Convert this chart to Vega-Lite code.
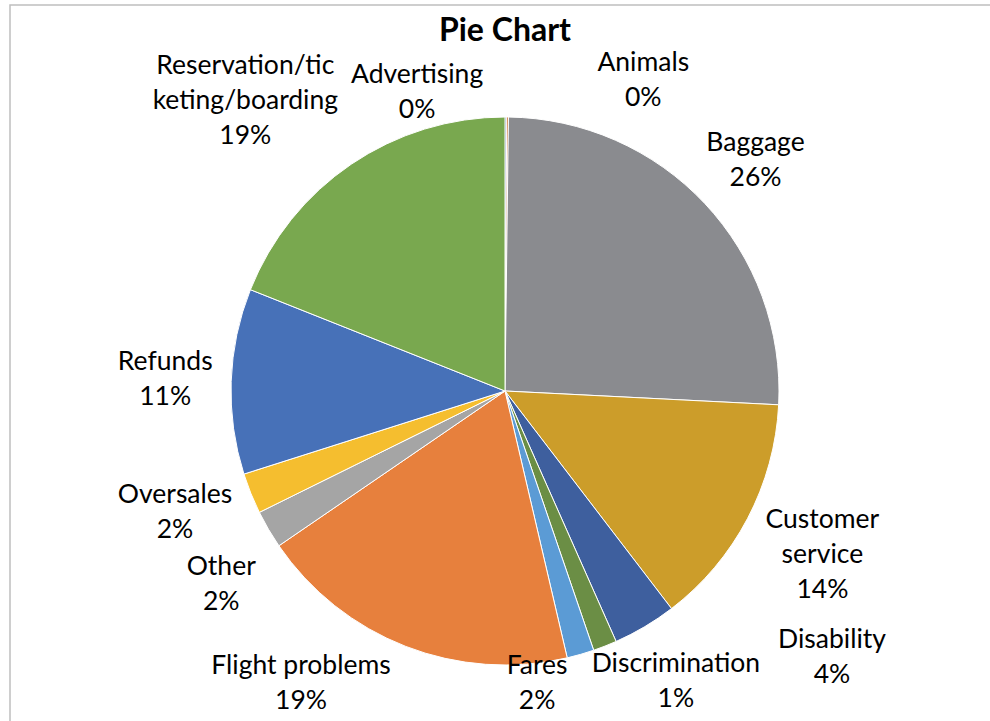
{
  "$schema": "https://vega.github.io/schema/vega-lite/v6.json",
  "width": 990,
  "height": 772,
  "autosize": "none",
  "padding": {"left": 10, "top": 5, "right": 0, "bottom": 0},
  "background": "white",
  "view": {"stroke": "#BFBFBF", "strokeWidth": 1.5},
  "config": {
    "view": {"stroke": "#BFBFBF", "strokeWidth": 1.5},
    "text": {"font": "Lato", "fontSize": 26.5, "lineHeight": 35, "fill": "#000000", "baseline": "middle", "align": "center"}
  },
  "title": {"text": "Pie Chart", "font": "Lato", "fontSize": 32, "fontWeight": "bold", "anchor": "middle", "baseline": "middle", "offset": 0, "dy": 58, "color": "#000000"},
  "data": {
    "values": [
      {"category": "Advertising", "label": "Advertising", "value": 0.001},
      {"category": "Animals", "label": "Animals", "value": 0.001},
      {"category": "Baggage", "label": "Baggage", "value": 0.256},
      {"category": "Customer service", "label": "Customer|service", "value": 0.138},
      {"category": "Disability", "label": "Disability", "value": 0.0375},
      {"category": "Discrimination", "label": "Discrimination", "value": 0.014},
      {"category": "Fares", "label": "Fares", "value": 0.016},
      {"category": "Flight problems", "label": "Flight problems", "value": 0.1909},
      {"category": "Other", "label": "Other", "value": 0.0225},
      {"category": "Oversales", "label": "Oversales", "value": 0.024},
      {"category": "Refunds", "label": "Refunds", "value": 0.1093},
      {"category": "Reservation/ticketing/boarding", "label": "Reservation/tic|keting/boarding", "value": 0.1897}
    ]
  },
  "transform": [
    {"stack": "value", "groupby": [], "sort": [{"field": "category", "order": "ascending"}], "as": ["v0", "v1"]},
    {"calculate": "(datum.v0 + datum.v1) / 2", "as": "mid"},
    {"calculate": "split(datum.label + '|' + format(datum.value, '.0%'), '|')", "as": "txt"}
  ],
  "layer": [
    {
      "mark": {"type": "arc", "outerRadius": 274, "stroke": "#FFFFFF", "strokeWidth": 1},
      "encoding": {
        "theta": {"field": "v0", "type": "quantitative", "scale": {"domain": [0, 0.9999]}},
        "theta2": {"field": "v1"},
        "color": {
          "field": "category", "type": "nominal", "legend": null,
          "scale": {
            "domain": ["Advertising", "Animals", "Baggage", "Customer service", "Disability", "Discrimination", "Fares", "Flight problems", "Other", "Oversales", "Refunds", "Reservation/ticketing/boarding"],
            "range": ["#2E5597", "#C55A11", "#8A8B8F", "#CC9D2A", "#3E5F9E", "#6B8E45", "#5B9BD5", "#E7803D", "#A5A5A5", "#F5BE2F", "#4771B8", "#79A84F"]
          }
        }
      }
    },
    {
      "transform": [{"filter": {"field": "category", "equal": "Baggage"}}],
      "mark": {"type": "text", "radius": 345, "dx": -1, "dy": -12},
      "encoding": {"theta": {"field": "mid", "type": "quantitative"}, "text": {"field": "txt"}}
    },
    {
      "transform": [{"filter": {"field": "category", "equal": "Customer service"}}],
      "mark": {"type": "text", "radius": 345, "dx": 12, "dy": -32},
      "encoding": {"theta": {"field": "mid", "type": "quantitative"}, "text": {"field": "txt"}}
    },
    {
      "transform": [{"filter": {"field": "category", "equal": "Refunds"}}],
      "mark": {"type": "text", "radius": 345, "dx": 5, "dy": -17},
      "encoding": {"theta": {"field": "mid", "type": "quantitative"}, "text": {"field": "txt"}}
    },
    {
      "transform": [{"filter": {"field": "category", "equal": "Oversales"}}],
      "mark": {"type": "text", "radius": 345, "dx": -10, "dy": -25},
      "encoding": {"theta": {"field": "mid", "type": "quantitative"}, "text": {"field": "txt"}}
    },
    {
      "transform": [{"filter": {"field": "category", "equal": "Other"}}],
      "mark": {"type": "text", "radius": 345, "dx": 14, "dy": 2},
      "encoding": {"theta": {"field": "mid", "type": "quantitative"}, "text": {"field": "txt"}}
    },
    {
      "transform": [{"filter": {"field": "category", "equal": "Reservation/ticketing/boarding"}}],
      "mark": {"type": "text", "radius": 345, "dx": -66, "dy": -39},
      "encoding": {"theta": {"field": "mid", "type": "quantitative"}, "text": {"field": "txt"}}
    },
    {
      "transform": [{"filter": {"field": "category", "equal": "Flight problems"}}],
      "mark": {"type": "text", "radius": 345, "dx": -79, "dy": -47},
      "encoding": {"theta": {"field": "mid", "type": "quantitative"}, "text": {"field": "txt"}}
    },
    {
      "transform": [{"filter": {"field": "category", "equal": "Fares"}}],
      "mark": {"type": "text", "radius": 345, "dx": -63, "dy": -57},
      "encoding": {"theta": {"field": "mid", "type": "quantitative"}, "text": {"field": "txt"}}
    },
    {
      "transform": [{"filter": {"field": "category", "equal": "Discrimination"}}],
      "mark": {"type": "text", "radius": 345, "dx": 45, "dy": -48},
      "encoding": {"theta": {"field": "mid", "type": "quantitative"}, "text": {"field": "txt"}}
    },
    {
      "transform": [{"filter": {"field": "category", "equal": "Disability"}}],
      "mark": {"type": "text", "radius": 345, "dx": 151, "dy": -48},
      "encoding": {"theta": {"field": "mid", "type": "quantitative"}, "text": {"field": "txt"}}
    },
    {
      "transform": [{"filter": {"field": "category", "equal": "Advertising"}}],
      "mark": {"type": "text", "radius": 345, "dx": -89, "dy": 29},
      "encoding": {"theta": {"field": "mid", "type": "quantitative"}, "text": {"field": "txt"}}
    },
    {
      "transform": [{"filter": {"field": "category", "equal": "Animals"}}],
      "mark": {"type": "text", "radius": 345, "dx": 135, "dy": 17},
      "encoding": {"theta": {"field": "mid", "type": "quantitative"}, "text": {"field": "txt"}}
    }
  ]
}
